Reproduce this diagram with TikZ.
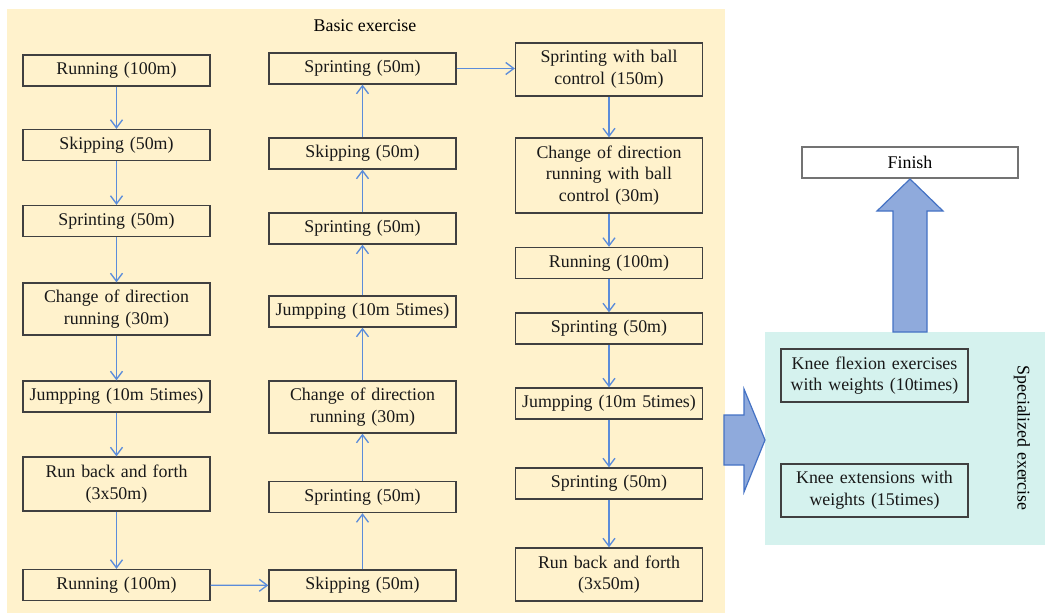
\documentclass[tikz,border=0pt]{standalone}
\usepackage{fontspec}
\setmainfont{Liberation Serif}
\usetikzlibrary{arrows.meta}
\definecolor{bgyellow}{RGB}{255,242,204}
\definecolor{bgcyan}{RGB}{213,242,238}
\definecolor{conn}{RGB}{91,140,218}
\definecolor{bigfill}{RGB}{143,170,220}
\definecolor{bigdraw}{RGB}{68,114,196}
\definecolor{boxline}{RGB}{64,64,64}
\begin{document}
\begin{tikzpicture}[x=0.75pt,y=-0.75pt,
  font=\fontsize{13.4}{16.3}\selectfont,
  stepbox/.style={draw=boxline,line width=1pt,fill=none,minimum width=187*0.75pt,
    text width=175*0.75pt,align=center,inner sep=0pt,text=black!90},
  h31/.style={minimum height=31*0.75pt},
  h53/.style={minimum height=53*0.75pt},
  h75/.style={minimum height=75*0.75pt},
  conn/.style={draw=conn,line width=1pt,-{Straight Barb[length=6pt,width=9pt]}},
  bigarrow/.style={fill=bigfill,draw=bigdraw,line width=0.9pt}]
\useasboundingbox (0,0) rectangle (1045,615);
\fill[bgyellow] (7,9) rectangle (725,613);
\fill[bgcyan] (765,332) rectangle (1045,545);
\node (title) at (365,26) {Basic exercise};
% column 1
\node[stepbox,h31] (a1) at (116.5,70.5) {Running (100m)};
\node[stepbox,h31] (a2) at (116.5,145) {Skipping (50m)};
\node[stepbox,h31] (a3) at (116.5,221) {Sprinting (50m)};
\node[stepbox,minimum height=52*0.75pt] (a4) at (116.5,309) {Change of direction\\running (30m)};
\node[stepbox,h31] (a5) at (116.5,396.5) {Jumpping (10m 5times)};
\node[stepbox,minimum height=54*0.75pt] (a6) at (116.5,484) {Run back and forth\\(3x50m)};
\node[stepbox,h31] (a7) at (116.5,585) {Running (100m)};
% column 2
\node[stepbox,h31] (b1) at (362.5,585.5) {Skipping (50m)};
\node[stepbox,h31] (b2) at (362.5,497) {Sprinting (50m)};
\node[stepbox,minimum height=52*0.75pt] (b3) at (362.5,407) {Change of direction\\running (30m)};
\node[stepbox,h31] (b4) at (362.5,311.5) {Jumpping (10m 5times)};
\node[stepbox,h31] (b5) at (362.5,228.5) {Sprinting (50m)};
\node[stepbox,h31] (b6) at (362.5,153.5) {Skipping (50m)};
\node[stepbox,h31] (b7) at (362.5,68.5) {Sprinting (50m)};
% column 3
\node[stepbox,h53] (c1) at (609,69.5) {Sprinting with ball\\control (150m)};
\node[stepbox,h75] (c2) at (609,175.5) {Change of direction\\running with ball\\control (30m)};
\node[stepbox,h31] (c3) at (609,263) {Running (100m)};
\node[stepbox,h31] (c4) at (609,328.5) {Sprinting (50m)};
\node[stepbox,h31] (c5) at (609,403.5) {Jumpping (10m 5times)};
\node[stepbox,h31] (c6) at (609,483.5) {Sprinting (50m)};
\node[stepbox,h53] (c7) at (609,574.5) {Run back and forth\\(3x50m)};
% right side
\node[stepbox,h53] (k1) at (874.5,375.5) {Knee flexion exercises\\with weights (10times)};
\node[stepbox,h53] (k2) at (874.5,490.5) {Knee extensions with\\weights (15times)};
\node[draw=gray!90!black,line width=1pt,fill=white,minimum width=216*0.75pt,minimum height=31*0.75pt,inner sep=0pt] (fin) at (910,162.5) {Finish};
\node[rotate=-90] (spec) at (1022,438) {Specialized exercise};
% connectors
\draw[conn] (a1) -- (a2);
\draw[conn] (a2) -- (a3);
\draw[conn] (a3) -- (a4);
\draw[conn] (a4) -- (a5);
\draw[conn] (a5) -- (a6);
\draw[conn] (a6) -- (a7);
\draw[conn] (a7) -- (b1);
\draw[conn] (b1) -- (b2);
\draw[conn] (b2) -- (b3);
\draw[conn] (b3) -- (b4);
\draw[conn] (b4) -- (b5);
\draw[conn] (b5) -- (b6);
\draw[conn] (b6) -- (b7);
\draw[conn] (b7.east) -- (b7.east -| c1.west);
\draw[conn] (c1) -- (c2);
\draw[conn] (c2) -- (c3);
\draw[conn] (c3) -- (c4);
\draw[conn] (c4) -- (c5);
\draw[conn] (c5) -- (c6);
\draw[conn] (c6) -- (c7);
% block arrows
\draw[bigarrow] (893,332) -- (893,211) -- (877,211) -- (910,179) -- (943,211) -- (927,211) -- (927,332) -- cycle;
\draw[bigarrow] (724,415) -- (744,415) -- (744,389) -- (765,440) -- (744,492) -- (744,465) -- (724,465) -- cycle;
\end{tikzpicture}
\end{document}
